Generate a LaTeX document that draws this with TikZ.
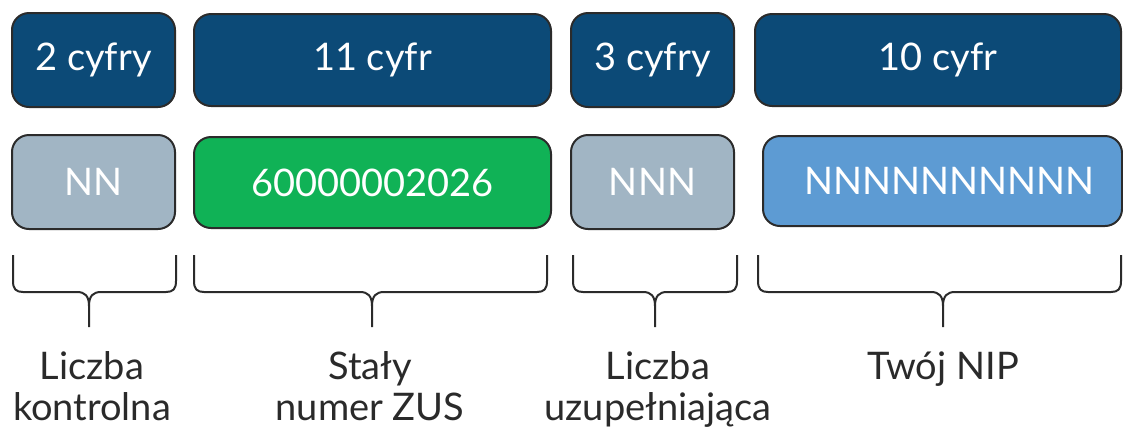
\documentclass[tikz,border=0pt]{standalone}
\usepackage{fontspec}
\setmainfont{Lato}
\usetikzlibrary{positioning}
\definecolor{zusdark}{HTML}{0C4A77}
\definecolor{zusgray}{HTML}{A1B5C4}
\definecolor{zusgreen}{HTML}{10B256}
\definecolor{zusblue}{HTML}{5D9BD3}
\definecolor{boxline}{HTML}{2B2B2B}
\definecolor{labelgray}{HTML}{2A2A2A}

\begin{document}
\begin{tikzpicture}[x=0.5pt,y=-0.5pt, line width=1pt,
    every node/.style={inner sep=0pt},
    digitbox/.style={draw=boxline, rounded corners=8.5pt, text=white, font=\fontsize{19}{23}\selectfont},
    bracetext/.style={text=labelgray, align=center, font=\fontsize{19}{20.5}\selectfont},
    zusbrace/.style={draw=boxline, line width=1pt, line join=round}]
\useasboundingbox (0,0) rectangle (1123,436);
% top row: number of digits
\node[digitbox, fill=zusdark, minimum width=81.5pt, minimum height=47pt] (ile1) at (93.5,60) {2 cyfry};
\node[digitbox, fill=zusdark, minimum width=178.5pt, minimum height=46pt] (ile2) at (372.5,60) {11 cyfr};
\node[digitbox, fill=zusdark, minimum width=81.5pt, minimum height=47pt] (ile3) at (652.5,60) {3 cyfry};
\node[digitbox, fill=zusdark, minimum width=183pt, minimum height=46pt] (ile4) at (938,60) {10 cyfr};
% second row: the digits
\node[digitbox, fill=zusgray, minimum width=81.5pt, minimum height=47pt] (cyf1) at (93.5,182) {NN};
\node[digitbox, fill=zusgreen, minimum width=178.5pt, minimum height=45.5pt] (cyf2) at (372.5,182.5) {60000002026};
\node[digitbox, fill=zusgray, minimum width=81.5pt, minimum height=47pt] (cyf3) at (652.5,182) {NNN};
\node[digitbox, fill=zusblue, minimum width=179.5pt, minimum height=45pt] (cyf4) at (942.5,181) {\hspace*{7pt}NNNNNNNNNN};
% braces
\foreach \l/\r/\m [count=\i] in {13/176/89, 194/547/372, 573/737/655, 758/1121/943}{
  \draw[zusbrace] (\l,255) -- (\l,281) .. controls (\l,289) and ({\l+3},292) .. ({\l+10},292)
    -- ({\m-12},292) .. controls ({\m-4},292) and (\m,296) .. (\m,306) -- (\m,327);
  \draw[zusbrace] (\m,306) .. controls (\m,296) and ({\m+4},292) .. ({\m+12},292)
    -- ({\r-10},292) .. controls ({\r-3},292) and (\r,289) .. (\r,281) -- (\r,255);
  \coordinate (tip\i) at (\m,327);
}
% descriptions
\node[bracetext, anchor=base] (opis1) at (92,420) {Liczba\\kontrolna};
\node[bracetext, anchor=base] (opis2) at (370,420) {Stały\\numer ZUS};
\node[bracetext, anchor=base] (opis3) at (658,420) {Liczba\\uzupełniająca};
\node[bracetext, anchor=base] (opis4) at (943,379) {Twój NIP};
\end{tikzpicture}
\end{document}
